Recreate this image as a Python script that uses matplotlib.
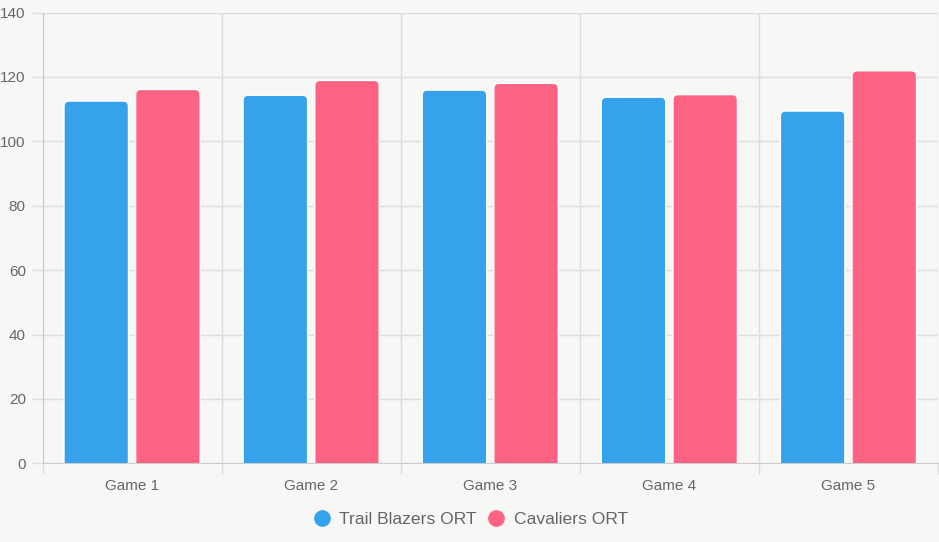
import numpy as np
import matplotlib.pyplot as plt
from matplotlib.patches import FancyBboxPatch
from matplotlib.lines import Line2D

plt.rcParams['font.family'] = ['Liberation Sans', 'DejaVu Sans']

games = ["Game 1", "Game 2", "Game 3", "Game 4", "Game 5"]
blazers_ort = [112.5, 114.3, 115.9, 113.7, 109.4]
cavs_ort = [116.1, 118.9, 118.0, 114.5, 121.9]

blue = "#36A2EB"
red = "#FF6384"
bg = "#F7F7F5"
grid_c = "#DDDDDD"
text_c = "#666666"

W, H = 939, 542
fig = plt.figure(figsize=(W / 100, H / 100), dpi=100, facecolor=bg)
left, right, top, bottom = 42.5, 938, 12.5, 463.3
ax = fig.add_axes([left / W, 1 - bottom / H, (right - left) / W, (bottom - top) / H])
ax.set_facecolor(bg)

x = np.arange(len(games))
bw = 0.8 / 2 * 0.9
ax.set_xlim(-0.5, len(games) - 0.5)
ax.set_ylim(0, 140)

# rounded bars: convert 5 px radius into data units
px_x = (right - left) / len(games)
px_y = (bottom - top) / 140
r_x = 5 / px_x
aspect = (5 / px_y) / r_x

for vals, col, off in [(blazers_ort, blue, -0.4 * 0.5), (cavs_ort, red, 0.4 * 0.5)]:
    for xi, v in zip(x, vals):
        p = FancyBboxPatch((xi + off - bw / 2, -3), bw, v + 3,
                           boxstyle="round,pad=0,rounding_size=%f" % r_x,
                           mutation_aspect=aspect, facecolor=col,
                           edgecolor="white", linewidth=1.0, zorder=3)
        ax.add_patch(p)

ax.set_yticks(np.arange(0, 141, 20))
ax.set_xticks(x)
ax.set_xticklabels(games)
ax.set_xticks(np.arange(-0.5, len(games), 1), minor=True)
ax.tick_params(axis="x", which="major", length=0, pad=11, labelsize=11, labelcolor=text_c)
ax.tick_params(axis="x", which="minor", length=8, color=grid_c, width=1)
ax.tick_params(axis="y", length=8, color=grid_c, width=1, pad=4, labelsize=11, labelcolor=text_c)
ax.grid(axis="y", color=grid_c, linewidth=1, zorder=0)
ax.grid(axis="x", which="minor", color=grid_c, linewidth=1, zorder=0)
for s in ["top", "right"]:
    ax.spines[s].set_visible(False)
for s in ["left", "bottom"]:
    ax.spines[s].set_color("#CCCCCC")

handles = [Line2D([], [], marker="o", linestyle="", markersize=11, color=blue),
           Line2D([], [], marker="o", linestyle="", markersize=11, color=red)]
fig.legend(handles, ["Trail Blazers ORT", "Cavaliers ORT"], loc="center",
           bbox_to_anchor=(0.5, 1 - 519 / H), ncol=2, frameon=False,
           fontsize=12.6, labelcolor=text_c, handlelength=1.2,
           handletextpad=0.4, columnspacing=0.5)

fig.savefig("out.png", dpi=100, facecolor=bg)
